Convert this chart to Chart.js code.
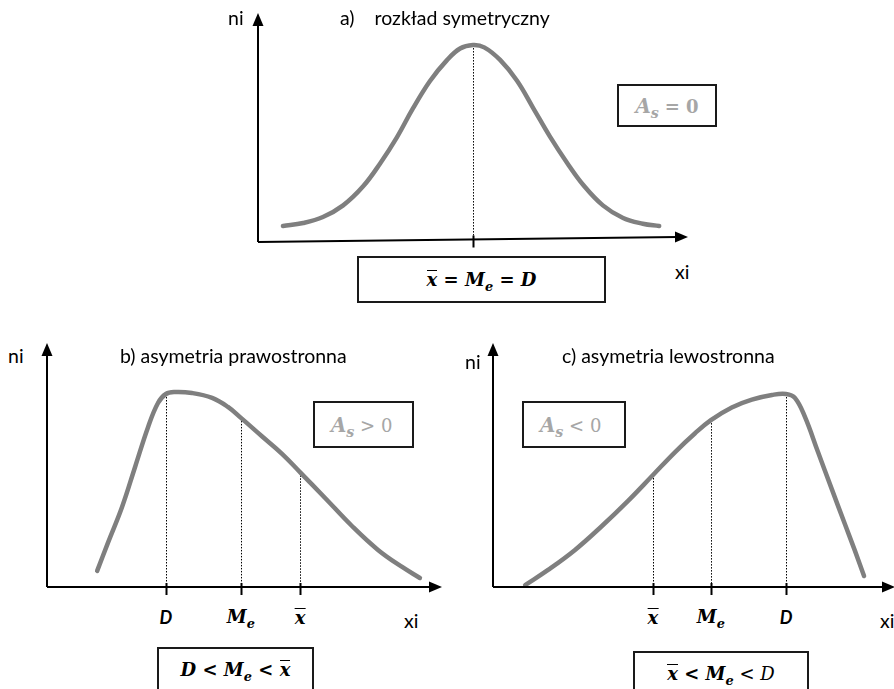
<!DOCTYPE html>
<html lang="pl">
<head>
<meta charset="utf-8">
<script src="https://cdn.jsdelivr.net/npm/chart.js@4.4.2/dist/chart.umd.min.js"></script>
<style>
  html, body { margin: 0; padding: 0; background: #fff; }
  body { width: 894px; height: 689px; position: relative; overflow: hidden; font-family: Lato, "Open Sans", sans-serif; color: #000; }
  canvas { position: absolute; }
  .lbl { position: absolute; font-size: 19.5px; line-height: 1; white-space: nowrap; }
  .box { position: absolute; border: 2px solid #1a1a1a; box-sizing: border-box; display: flex; align-items: center; background: #fff; }
  .math { font-family: "DejaVu Serif", "Liberation Serif", serif; font-size: 18px; white-space: nowrap; }
  .math b, .math i { font-weight: bold; font-style: italic; }
  .math sub { font-size: 0.72em; vertical-align: -0.35em; line-height: 0; }
  .ov { display: inline-block; border-top: 1.5px solid currentColor; line-height: 0.9; padding-top: 1px; }
  .grey { color: #a6a6a6; }
  .grey i { font-size: 1.1em; }
  .mark { position: absolute; transform: translateX(-50%); font-family: "DejaVu Serif", serif; font-weight: bold; font-style: italic; font-size: 18px; line-height: 1; }
  .mark.sans { font-family: Lato, sans-serif; font-size: 18px; }
</style>
</head>
<body>

<canvas id="chartA" width="460" height="256" style="left:240px; top:0px;"></canvas>
<canvas id="chartB" width="425" height="270" style="left:30px; top:330px;"></canvas>
<canvas id="chartC" width="430" height="270" style="left:476px; top:330px;"></canvas>

<!-- a) -->
<div class="lbl" style="left:228px; top:8px;">ni</div>
<div class="lbl" style="left:340px; top:8px;">a)&nbsp;&nbsp;&nbsp; rozkład symetryczny</div>
<div class="lbl" style="left:675px; top:262px;">xi</div>
<div class="box" style="left:617px; top:84px; width:100px; height:43px; justify-content:center;">
  <span class="math grey"><i>A<sub>s</sub></i> <b style="font-style:normal">= 0</b></span>
</div>
<div class="box" style="left:357px; top:256px; width:249px; height:47px; justify-content:center;">
  <span class="math"><b><span class="ov">x</span> = M<sub>e</sub> = D</b></span>
</div>

<!-- b) -->
<div class="lbl" style="left:8px; top:346px;">ni</div>
<div class="lbl" style="left:120px; top:346px;">b) asymetria prawostronna</div>
<div class="lbl" style="left:404px; top:611px;">xi</div>
<div class="box" style="left:313px; top:401px; width:101px; height:47px; padding-left:16px;">
  <span class="math grey"><i>A<sub>s</sub></i> &gt; 0</span>
</div>
<div class="box" style="left:157px; top:647px; width:157px; height:70px; justify-content:center; align-items:flex-start; padding-top:10px;">
  <span class="math"><b>D &lt; M<sub>e</sub> &lt; <span class="ov">x</span></b></span>
</div>

<!-- c) -->
<div class="lbl" style="left:465px; top:352px;">ni</div>
<div class="lbl" style="left:562px; top:346px;">c) asymetria lewostronna</div>
<div class="lbl" style="left:880px; top:611px;">xi</div>
<div class="box" style="left:522px; top:401px; width:104px; height:47px; padding-left:16px;">
  <span class="math grey"><i>A<sub>s</sub></i> &lt; 0</span>
</div>
<div class="box" style="left:633px; top:651px; width:176px; height:70px; justify-content:center; align-items:flex-start; padding-top:10px;">
  <span class="math"><b><span class="ov">x</span> &lt; M<sub>e</sub></b> &lt; <i style="font-weight:normal">D</i></span>
</div>

<script>
// a) rozkład symetryczny
const xA = [5.8, 10.5, 15.1, 19.8, 24.4, 28.4, 32.3, 36, 40, 43.9, 47, 50, 52.6, 56.3, 60.2, 64, 67.9, 71.9, 75.6, 80.2, 84.9, 89.5, 93.3];
const yA = [7, 8.3, 10.9, 16, 24.2, 34.3, 45.7, 58.2, 70.3, 79.3, 84.5, 86, 85, 79.5, 70.5, 58.5, 46, 34.5, 25, 16, 10.5, 8, 7];
const marksA = [50];
const markHeightsA = [86];
const markLabelsA = [];

// b) asymetria prawostronna
const xB = [12.7, 15.4, 19, 22.3, 25.6, 28.1, 30.1, 32.4, 36.7, 41.8, 45.8, 49.1, 54.4, 59.5, 64.1, 70.4, 77.2, 83.8, 89.9, 94.4];
const yB = [6.6, 18, 32.8, 49.2, 65.6, 75.4, 79.1, 79.9, 79.5, 77.5, 73.8, 69.3, 61.8, 54.6, 47, 36.5, 25, 15.2, 8.2, 3.7];
const marksB = [30.1, 49.1, 64.1];
const markHeightsB = [79.1, 69.3, 47];
const markLabelsB = ['D', 'M_e', 'x̄'];

// c) asymetria lewostronna
const xC = [8, 13.7, 20.4, 27.1, 33.6, 39.8, 45.3, 50.2, 54.2, 59.4, 64.4, 69.4, 72.9, 75.1, 77.6, 80.8, 84.3, 87.6, 90, 92.3];
const yC = [0.8, 7, 15.2, 25, 35.3, 45.9, 55.3, 62.9, 68.4, 73.6, 76.8, 78.7, 79.1, 77.5, 69.7, 55.5, 40, 25.5, 15, 4.5];
const marksC = [39.8, 54.2, 72.9];
const markHeightsC = [45.9, 68.4, 79.1];
const markLabelsC = ['x̄', 'M_e', 'D'];

function labelHtml(txt) {
  if (txt === 'x̄') return '<span class="ov">x</span>';
  if (txt === 'M_e') return 'M<sub style="font-size:0.72em;vertical-align:-0.35em;line-height:0">e</sub>';
  return txt;
}

const axesPlugin = {
  id: 'axesPlugin',
  beforeDatasetsDraw(chart, args, opts) {
    const { ctx, chartArea: { bottom }, scales: { x, y } } = chart;
    ctx.save();
    ctx.strokeStyle = '#000';
    ctx.lineWidth = 1;
    ctx.setLineDash([1.5, 1.5]);
    opts.marks.forEach((m, i) => {
      const px = Math.round(x.getPixelForValue(m)) + 0.5;
      ctx.beginPath();
      ctx.moveTo(px, y.getPixelForValue(opts.heights[i]));
      ctx.lineTo(px, bottom);
      ctx.stroke();
    });
    ctx.restore();
  },
  afterDatasetsDraw(chart, args, opts) {
    const { ctx, chartArea: { left, right, top, bottom }, scales: { x } } = chart;
    const tilt = opts.tilt || 0;
    const yAt = px => bottom - tilt * (px - left) / (right - left);
    ctx.save();
    ctx.strokeStyle = '#000';
    ctx.fillStyle = '#000';
    ctx.lineWidth = 2;
    ctx.beginPath();
    ctx.moveTo(left, bottom);
    ctx.lineTo(left, top + 10);
    ctx.moveTo(left, bottom);
    ctx.lineTo(right - 10, yAt(right - 10));
    ctx.stroke();
    // arrow heads
    ctx.beginPath();
    ctx.moveTo(left, top);
    ctx.lineTo(left - 5.5, top + 13);
    ctx.lineTo(left + 5.5, top + 13);
    ctx.closePath();
    ctx.fill();
    ctx.beginPath();
    ctx.moveTo(right, yAt(right));
    ctx.lineTo(right - 13, yAt(right) - 5.5);
    ctx.lineTo(right - 13, yAt(right) + 5.5);
    ctx.closePath();
    ctx.fill();
    // ticks
    opts.marks.forEach(m => {
      const px = Math.round(x.getPixelForValue(m)) + 0.5;
      ctx.beginPath();
      ctx.moveTo(px, yAt(px) - 4);
      ctx.lineTo(px, yAt(px) + 8);
      ctx.stroke();
    });
    ctx.restore();

    // labels under the ticks
    if (!chart._labelsDone) {
      chart._labelsDone = true;
      const cv = chart.canvas;
      opts.labels.forEach((txt, i) => {
        const el = document.createElement('div');
        el.className = 'mark' + (txt === 'D' ? ' sans' : '');
        el.innerHTML = labelHtml(txt);
        el.style.left = (cv.offsetLeft + x.getPixelForValue(opts.marks[i])) + 'px';
        el.style.top = (cv.offsetTop + bottom + 21) + 'px';
        document.body.appendChild(el);
      });
    }
  }
};

function makeChart(id, xs, ys, marks, heights, labels, padding, tilt) {
  return new Chart(document.getElementById(id), {
    type: 'line',
    data: {
      datasets: [{
        data: xs.map((v, i) => ({ x: v, y: ys[i] })),
        borderColor: '#7f7f7f',
        borderWidth: 4.5,
        borderCapStyle: 'round',
        borderJoinStyle: 'round',
        pointRadius: 0,
        tension: 0.4,
        clip: false
      }]
    },
    options: {
      responsive: false,
      animation: false,
      events: [],
      layout: { padding: padding },
      scales: {
        x: { type: 'linear', min: 0, max: 100, display: false },
        y: { min: 0, max: 100, display: false }
      },
      plugins: {
        legend: { display: false },
        tooltip: { enabled: false },
        axesPlugin: { marks: marks, heights: heights, labels: labels, tilt: tilt }
      }
    },
    plugins: [axesPlugin]
  });
}

makeChart('chartA', xA, yA, marksA, markHeightsA, markLabelsA, { left: 18, top: 13, right: 12, bottom: 14 }, 5);
makeChart('chartB', xB, yB, marksB, markHeightsB, markLabelsB, { left: 17, top: 13, right: 13, bottom: 13 }, 0);
makeChart('chartC', xC, yC, marksC, markHeightsC, markLabelsC, { left: 17, top: 13, right: 11, bottom: 13 }, 0);
</script>
</body>
</html>
